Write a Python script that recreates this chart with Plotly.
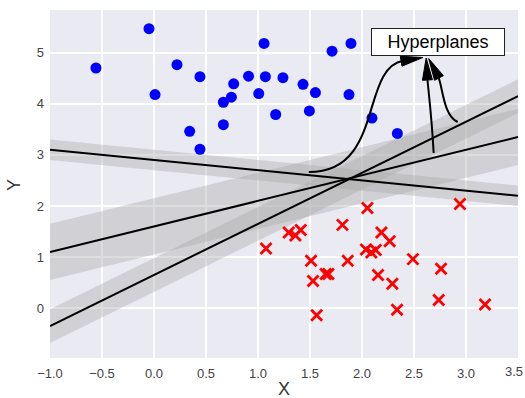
import numpy as np
import plotly.graph_objects as go

# ---- data ----
blue_x = [-0.558, -0.048, 0.221, 0.442, 0.010, 0.766, 0.744, 0.667, 0.667, 0.343,
          0.442, 0.909, 1.058, 1.712, 1.894, 1.071, 1.240, 1.433, 1.007, 1.552,
          1.875, 1.170, 1.494, 2.096, 2.340]
blue_y = [4.70, 5.47, 4.765, 4.53, 4.18, 4.39, 4.13, 4.03, 3.59, 3.46,
          3.11, 4.54, 5.18, 5.03, 5.18, 4.53, 4.51, 4.38, 4.20, 4.22,
          4.18, 3.79, 3.86, 3.72, 3.42]

red_x = [2.052, 1.812, 1.295, 1.360, 1.411, 2.187, 2.266, 1.077, 2.038, 2.090,
         2.132, 1.510, 1.863, 1.651, 1.677, 1.529, 2.154, 2.292, 1.564, 2.337,
         2.942, 2.490, 2.760, 2.738, 3.183]
red_y = [1.96, 1.63, 1.48, 1.42, 1.53, 1.48, 1.31, 1.17, 1.15, 1.09,
         1.14, 0.93, 0.93, 0.67, 0.67, 0.53, 0.65, 0.48, -0.14, -0.03,
         2.04, 0.96, 0.77, 0.16, 0.07]

# hyperplanes: slope, intercept, margin half-width
slopes = [1.0, 0.5, -0.2]
intercepts = [0.65, 1.6, 2.9]
margins = [0.33, 0.55, 0.2]
xfit = [-1.0, 3.5]

x_ticks = [-1.0, -0.5, 0.0, 0.5, 1.0, 1.5, 2.0, 2.5, 3.0, 3.5]
y_ticks = [0, 1, 2, 3, 4, 5]

X_RANGE = [-1.0, 3.5]
Y_RANGE = [-0.975, 5.835]

W, H = 525, 398
ML, MR, MT, MB = 50, 7, 10, 40
PW, PH = W - ML - MR, H - MT - MB
XPU = PW / (X_RANGE[1] - X_RANGE[0])
YPU = PH / (Y_RANGE[1] - Y_RANGE[0])

fig = go.Figure()

# bands
xf = np.array(xfit)
for m, b, d in zip(slopes, intercepts, margins):
    yf = m * xf + b
    fig.add_trace(go.Scatter(
        x=list(xf) + list(xf[::-1]),
        y=list(yf - d) + list((yf + d)[::-1]),
        fill="toself", fillcolor="rgba(170,170,170,0.4)",
        line=dict(width=0), mode="lines", hoverinfo="skip", showlegend=False))

# lines
for m, b, d in zip(slopes, intercepts, margins):
    yf = m * xf + b
    fig.add_trace(go.Scatter(x=xf, y=yf, mode="lines",
                             line=dict(color="black", width=2), showlegend=False))

# points
fig.add_trace(go.Scatter(x=blue_x, y=blue_y, mode="markers",
                         marker=dict(color="#0000FF", size=11, line=dict(width=0)),
                         showlegend=False))
fig.add_trace(go.Scatter(x=red_x, y=red_y, mode="markers",
                         marker=dict(symbol="x-thin", size=11,
                                     line=dict(color="#FF0000", width=2.8)),
                         showlegend=False))

# annotation arrows (data coordinates of bezier control points)
arrows = [
    [(1.488, 2.664), (2.218, 2.664), (1.978, 4.695), (2.585, 4.905)],
    [(2.689, 3.036), (2.670, 3.780), (2.632, 4.367), (2.617, 4.895)],
    [(2.920, 3.643), (2.776, 3.780), (2.776, 4.367), (2.641, 4.885)],
]

shapes = []
HEAD_L, HEAD_W = 22, 5
for P in arrows:
    (x0, y0), (x1, y1), (x2, y2), (x3, y3) = P
    vx = (x3 - x2) * XPU
    vy = -(y3 - y2) * YPU
    n = (vx ** 2 + vy ** 2) ** 0.5
    ux, uy = vx / n, vy / n
    bx, by = -HEAD_L * ux, -HEAD_L * uy
    px_, py_ = -uy, ux
    lx, ly = bx + HEAD_W * px_, by + HEAD_W * py_
    rx, ry = bx - HEAD_W * px_, by - HEAD_W * py_
    ex, ey = x3 + (bx * 0.9) / XPU, y3 - (by * 0.9) / YPU
    shapes.append(dict(type="path", xref="x", yref="y", layer="above",
                       path=f"M {x0},{y0} C {x1},{y1} {x2},{y2} {ex},{ey}",
                       line=dict(color="black", width=2)))
    shapes.append(dict(type="path", xref="x", yref="y", layer="above",
                       path=(f"M {x3},{y3} L {x3 + lx / XPU},{y3 - ly / YPU} "
                             f"L {x3 + rx / XPU},{y3 - ry / YPU} Z"),
                       fillcolor="black", line=dict(color="black", width=1)))

font_family = "Arial, Liberation Sans, sans-serif"
tick_font = dict(size=13, color="#444444", family=font_family)

# last x tick label sits on the paper edge; plotly hides it, so draw it as text
last_tick = x_ticks[-1]
edge_label = dict(x=(W - 1 - ML) / PW, y=-(372 - (H - MB)) / PH,
                  xref="paper", yref="paper",
                  text=f"{last_tick:.1f}", showarrow=False, font=tick_font,
                  xanchor="right", yanchor="middle", borderpad=0)

fig.update_layout(
    width=W, height=H,
    margin=dict(l=ML, r=MR, t=MT, b=MB, autoexpand=False),
    paper_bgcolor="white", plot_bgcolor="#EAEAF2",
    font=dict(family=font_family, color="#333333"),
    shapes=shapes,
    annotations=[
        dict(x=2.728, y=5.21, xref="x", yref="y", text="Hyperplanes",
             showarrow=False, font=dict(size=18, color="black", family=font_family),
             bgcolor="white", bordercolor="#222222", borderwidth=1, borderpad=2,
             width=128, height=22, xanchor="center", yanchor="middle"),
        dict(x=(284 - ML) / PW, y=-(389 - (H - MB)) / PH,
             xref="paper", yref="paper", text="X", showarrow=False,
             font=dict(size=18, color="#333333"), xanchor="center", yanchor="middle"),
        dict(x=-(ML - 14) / PW, y=(H - MB - 185) / PH,
             xref="paper", yref="paper", text="Y", showarrow=False, textangle=-90,
             font=dict(size=18, color="#333333"), xanchor="center", yanchor="middle"),
        edge_label,
    ],
    xaxis=dict(range=X_RANGE, tickvals=x_ticks[:-1], tickformat=".1f", automargin=False,
               showgrid=True, gridcolor="white", gridwidth=1.5,
               zeroline=False, showline=False, ticks="", ticklabelstandoff=6,
               tickfont=tick_font),
    yaxis=dict(range=Y_RANGE, tickvals=y_ticks, automargin=False,
               showgrid=True, gridcolor="white", gridwidth=1.5,
               zeroline=False, showline=False, ticks="", ticklabelstandoff=5,
               tickfont=tick_font),
)

fig.write_html("out.html",
               config={"displayModeBar": False},
               post_script="document.body.style.margin='0px';"
                           "document.body.style.overflow='hidden';")
